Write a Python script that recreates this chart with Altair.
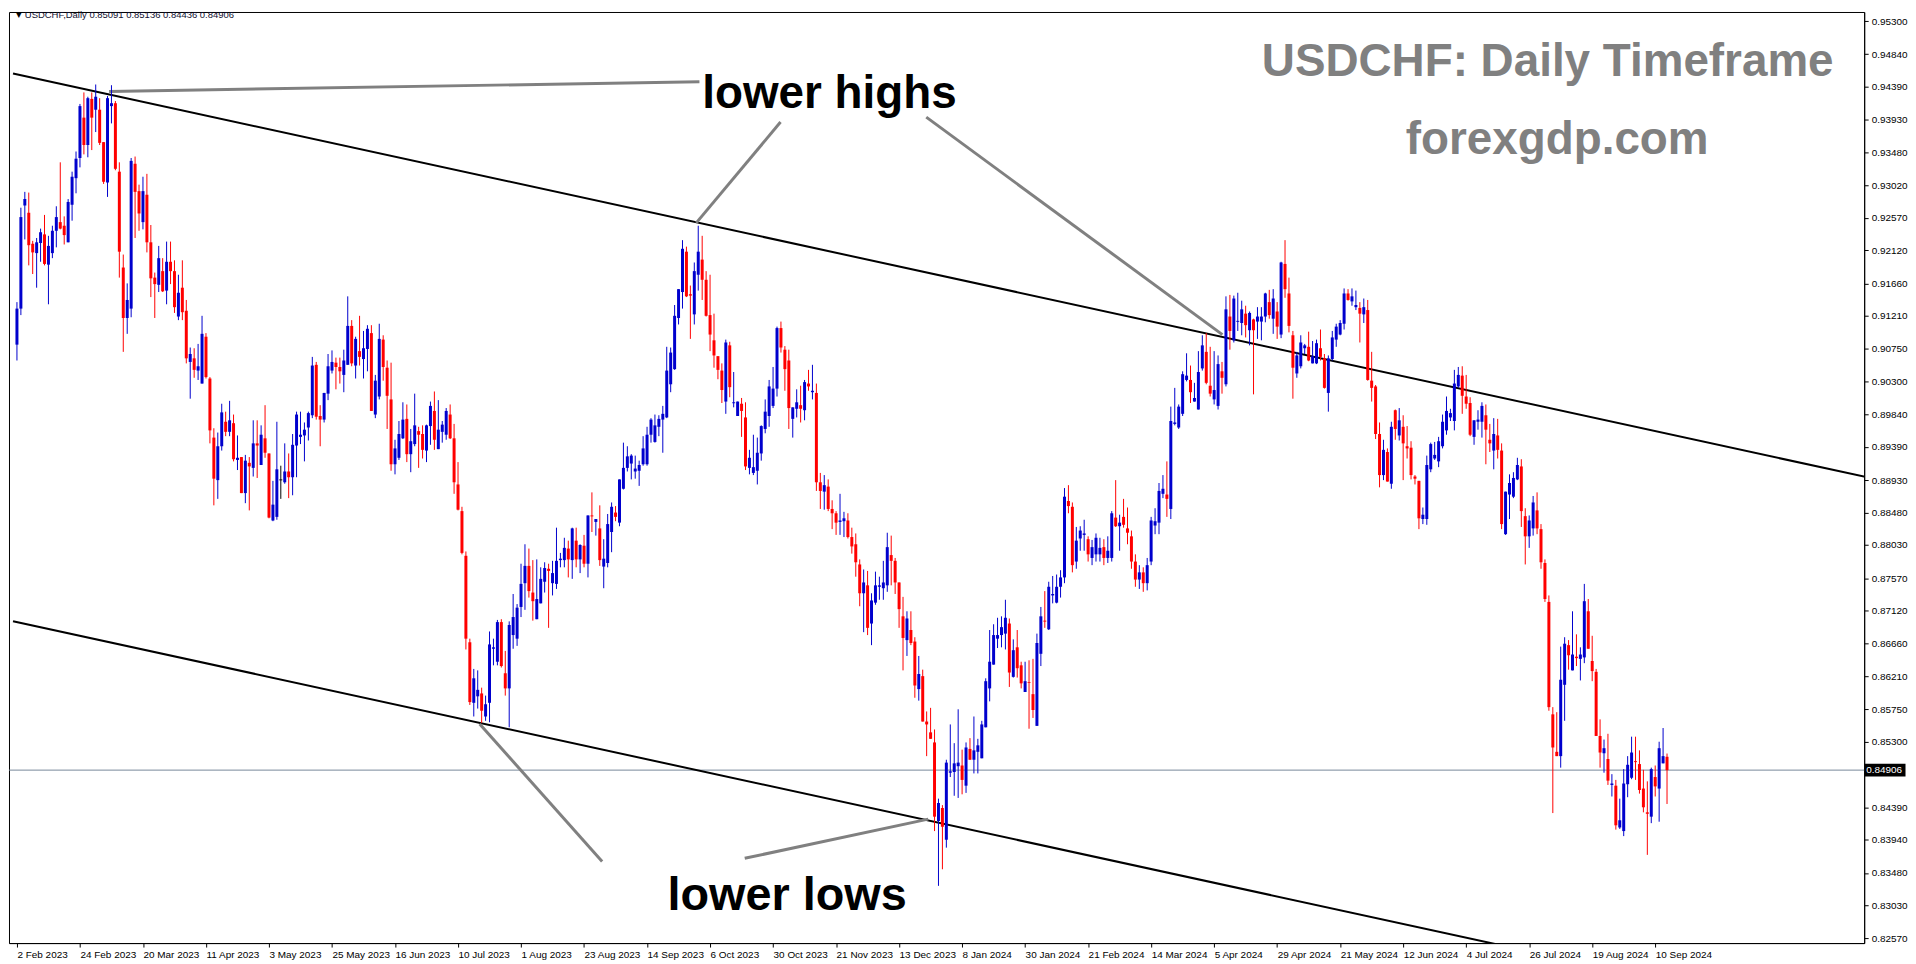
import altair as alt
import pandas as pd
import numpy as np

# ---------------- data (prices in 1e-4 units) ----------------
O = [
9081, 9131, 9274, 9264, 9221, 9208, 9222, 9234, 9192, 9208,
9239, 9251, 9246, 9223, 9275, 9312, 9340, 9396, 9358, 9422,
9407, 9407, 9362, 9306, 9412, 9416, 9321, 9188, 9118, 9131,
9332, 9294, 9251, 9289, 9223, 9174, 9164, 9183, 9156, 9196,
9183, 9120, 9160, 9128, 9057, 9062, 9045, 9027, 9092, 9034,
8952, 8893, 8940, 8974, 8960, 8972, 8921, 8925, 8875, 8917,
8910, 8944, 8914, 8951, 8930, 8837, 8842, 8894, 8890, 8905,
8897, 8941, 8953, 8955, 8966, 8983, 9053, 8982, 8977, 9013,
9045, 9056, 9050, 9039, 9053, 9107, 9052, 9072, 9061, 9075,
9097, 8984, 9009, 9088, 9049, 9005, 8915, 8924, 8951, 8978,
8929, 8943, 8961, 8957, 8934, 8968, 8989, 8936, 8960, 8956,
8984, 8951, 8887, 8850, 8788, 8668, 8584, 8593, 8597, 8565,
8584, 8659, 8641, 8696, 8625, 8604, 8678, 8673, 8717, 8750,
8774, 8737, 8700, 8722, 8752, 8770, 8750, 8749, 8782, 8782,
8798, 8782, 8809, 8783, 8802, 8777, 8844, 8835, 8826, 8773,
8778, 8821, 8848, 8834, 8881, 8910, 8916, 8905, 8906, 8915,
8915, 8956, 8946, 8967, 8977, 8980, 9026, 9047, 9118, 9154,
9210, 9151, 9123, 9178, 9199, 9171, 9122, 9087, 9065, 9045,
9002, 9080, 9000, 8982, 8999, 8980, 8910, 8903, 8906, 8930,
8964, 8982, 8996, 9020, 9104, 9074, 9059, 8978, 8992, 8997,
8990, 9027, 9015, 9014, 8890, 8877, 8884, 8853, 8847, 8835,
8836, 8837, 8814, 8804, 8776, 8736, 8747, 8694, 8723, 8745,
8743, 8747, 8789, 8781, 8751, 8704, 8671, 8685, 8669, 8603,
8621, 8558, 8543, 8529, 8420, 8438, 8394, 8487, 8488, 8496,
8497, 8469, 8520, 8505, 8516, 8507, 8550, 8604, 8637, 8673,
8678, 8680, 8694, 8620, 8661, 8636, 8599, 8613, 8596, 8552,
8652, 8698, 8686, 8733, 8723, 8745, 8758, 8864, 8856, 8780,
8812, 8817, 8811, 8785, 8790, 8790, 8800, 8785, 8785, 8841,
8829, 8842, 8826, 8815, 8780, 8755, 8765, 8750, 8780, 8830,
8834, 8874, 8873, 8853, 8971, 8966, 8985, 9032, 9032, 9002,
8991, 9048, 9071, 9024, 9005, 8996, 9044, 9026, 9120, 9087,
9113, 9111, 9124, 9101, 9116, 9113, 9113, 9120, 9140, 9117,
9127, 9095, 9193, 9152, 9094, 9041, 9051, 9076, 9078, 9055,
9055, 9076, 9062, 9014, 9061, 9088, 9095, 9110, 9152, 9141,
9133, 9132, 9123, 9129, 9031, 9023, 8957, 8900, 8932, 8888,
8990, 8955, 8967, 8940, 8938, 8898, 8892, 8839, 8839, 8908,
8923, 8919, 8940, 8962, 8980, 8975, 9023, 9038, 9009, 9000,
8953, 8974, 8974, 8983, 8949, 8934, 8955, 8934, 8818, 8873,
8870, 8894, 8912, 8843, 8815, 8826, 8851, 8825, 8778, 8724,
8568, 8516, 8510, 8609, 8664, 8629, 8648, 8645, 8647, 8711,
8642, 8627, 8538, 8514, 8506, 8470, 8469, 8411, 8406, 8471,
8480, 8503, 8499, 8465, 8432, 8426, 8481, 8465, 8500, 8509.1,
]
H = [
9140, 9271, 9293, 9292, 9225, 9229, 9242, 9261, 9232, 9246,
9273, 9334, 9259, 9283, 9321, 9349, 9415, 9431, 9425, 9431,
9442, 9423, 9362, 9426, 9441, 9419, 9334, 9206, 9166, 9340,
9342, 9303, 9314, 9318, 9247, 9181, 9218, 9201, 9224, 9224,
9198, 9178, 9198, 9143, 9077, 9076, 9082, 9121, 9097, 9036,
8965, 8959, 8999, 8988, 9003, 8984, 8955, 8925, 8928, 8925,
8976, 8976, 8969, 8997, 8930, 8892, 8974, 8913, 8944, 8930,
8957, 8988, 8988, 8973, 8988, 9064, 9057, 8997, 9014, 9068,
9073, 9063, 9063, 9074, 9148, 9115, 9092, 9121, 9100, 9108,
9108, 9039, 9110, 9094, 9059, 9056, 8949, 8975, 9001, 8998,
8964, 9013, 8967, 8969, 8970, 9002, 9016, 9004, 8975, 8993,
8998, 8971, 8918, 8856, 8794, 8673, 8631, 8629, 8605, 8594,
8683, 8673, 8699, 8700, 8656, 8697, 8735, 8721, 8777, 8804,
8798, 8782, 8783, 8772, 8779, 8777, 8781, 8827, 8792, 8813,
8809, 8827, 8827, 8804, 8817, 8844, 8876, 8839, 8858, 8811,
8846, 8862, 8857, 8894, 8945, 8940, 8929, 8927, 8920, 8954,
8967, 8979, 8984, 8983, 8996, 9078, 9077, 9136, 9158, 9226,
9217, 9163, 9195, 9246, 9232, 9183, 9178, 9124, 9065, 9055,
9088, 9085, 9043, 9002, 9007, 9001, 8935, 8956, 8952, 8969,
9005, 9032, 9050, 9106, 9113, 9079, 9074, 8994, 9019, 9024,
9032, 9046, 9053, 9027, 8903, 8900, 8894, 8865, 8850, 8874,
8849, 8847, 8827, 8819, 8783, 8769, 8767, 8736, 8766, 8759,
8781, 8820, 8816, 8785, 8751, 8731, 8711, 8711, 8675, 8649,
8630, 8572, 8577, 8547, 8451, 8442, 8505, 8554, 8528, 8575,
8519, 8529, 8535, 8565, 8534, 8559, 8618, 8685, 8693, 8702,
8704, 8727, 8701, 8672, 8685, 8641, 8641, 8643, 8645, 8680,
8717, 8739, 8752, 8760, 8762, 8768, 8882, 8886, 8862, 8828,
8829, 8838, 8815, 8810, 8819, 8813, 8811, 8815, 8850, 8893,
8845, 8867, 8855, 8823, 8790, 8775, 8772, 8785, 8842, 8854,
8889, 8900, 8919, 8995, 9021, 8998, 9044, 9069, 9052, 9028,
9072, 9094, 9097, 9078, 9072, 9066, 9057, 9148, 9150, 9149,
9153, 9142, 9135, 9127, 9117, 9133, 9133, 9153, 9157, 9158,
9140, 9196, 9226, 9174, 9100, 9071, 9094, 9082, 9099, 9086,
9088, 9102, 9068, 9066, 9100, 9110, 9115, 9159, 9158, 9159,
9156, 9140, 9145, 9143, 9071, 9025, 8973, 8949, 8937, 8974,
8991, 8993, 8983, 8968, 8947, 8900, 8892, 8855, 8927, 8945,
8946, 8953, 8984, 9009, 8992, 9046, 9050, 9051, 9039, 9008,
8976, 8990, 9001, 8998, 8971, 8979, 8978, 8944, 8877, 8901,
8904, 8924, 8922, 8854, 8844, 8871, 8876, 8832, 8783, 8733,
8578, 8571, 8662, 8675, 8671, 8711, 8679, 8661, 8749, 8728,
8677, 8631, 8561, 8533, 8541, 8485, 8477, 8451, 8492, 8510,
8537, 8537, 8518, 8491, 8475, 8494, 8497, 8530, 8549, 8513.6,
]
L = [
9059, 9122, 9227, 9191, 9179, 9160, 9196, 9191, 9137, 9201,
9216, 9241, 9220, 9223, 9253, 9291, 9327, 9345, 9341, 9351,
9376, 9358, 9304, 9286, 9388, 9323, 9174, 9071, 9096, 9119,
9229, 9239, 9241, 9209, 9147, 9118, 9154, 9154, 9137, 9165,
9125, 9115, 9115, 9055, 9006, 9035, 9032, 9027, 9034, 8944,
8858, 8867, 8934, 8954, 8954, 8919, 8907, 8875, 8861, 8851,
8898, 8896, 8914, 8924, 8840, 8836, 8838, 8867, 8888, 8868,
8872, 8897, 8943, 8919, 8948, 8979, 8977, 8940, 8973, 9004,
9041, 9019, 9027, 9015, 9053, 9051, 9034, 9052, 9034, 9044,
8989, 8979, 9005, 9031, 8964, 8906, 8901, 8921, 8950, 8918,
8904, 8940, 8910, 8923, 8918, 8942, 8935, 8936, 8945, 8949,
8950, 8874, 8851, 8790, 8658, 8581, 8565, 8576, 8556, 8559,
8557, 8636, 8636, 8633, 8594, 8550, 8659, 8663, 8703, 8713,
8730, 8698, 8700, 8722, 8737, 8688, 8733, 8742, 8772, 8772,
8758, 8756, 8772, 8764, 8772, 8758, 8821, 8816, 8774, 8743,
8772, 8793, 8836, 8829, 8880, 8905, 8894, 8895, 8885, 8913,
8913, 8945, 8945, 8954, 8931, 8979, 9015, 9046, 9109, 9131,
9147, 9089, 9109, 9156, 9143, 9120, 9072, 9049, 9033, 9000,
8985, 9008, 8994, 8982, 8953, 8907, 8901, 8900, 8887, 8920,
8958, 8967, 8993, 9009, 9070, 9017, 8964, 8952, 8980, 8973,
8976, 9017, 9005, 8878, 8853, 8852, 8850, 8825, 8817, 8817,
8814, 8812, 8791, 8759, 8718, 8682, 8678, 8664, 8720, 8727,
8727, 8738, 8747, 8735, 8688, 8629, 8649, 8664, 8591, 8587,
8558, 8510, 8534, 8406, 8330, 8353, 8383, 8481, 8455, 8452,
8457, 8459, 8505, 8486, 8486, 8507, 8550, 8586, 8637, 8660,
8661, 8658, 8606, 8619, 8619, 8604, 8599, 8548, 8563, 8552,
8635, 8688, 8685, 8722, 8722, 8730, 8750, 8847, 8765, 8770,
8795, 8795, 8780, 8775, 8780, 8780, 8775, 8778, 8780, 8828,
8795, 8827, 8804, 8770, 8745, 8742, 8738, 8740, 8775, 8818,
8818, 8868, 8842, 8839, 8969, 8964, 8982, 9030, 9000, 9002,
8991, 9045, 9026, 9009, 8998, 8991, 9013, 9023, 9074, 9084,
9100, 9094, 9091, 9080, 9012, 9089, 9087, 9112, 9117, 9096,
9089, 9090, 9146, 9098, 9006, 9035, 9048, 9068, 9058, 9055,
9054, 9059, 9020, 8988, 9059, 9078, 9094, 9102, 9142, 9135,
9129, 9084, 9111, 9031, 9002, 8950, 8883, 8893, 8891, 8881,
8949, 8948, 8893, 8923, 8894, 8887, 8825, 8832, 8831, 8904,
8921, 8911, 8937, 8956, 8975, 8962, 9021, 8985, 8992, 8954,
8942, 8963, 8952, 8915, 8932, 8908, 8923, 8825, 8817, 8839,
8868, 8893, 8828, 8776, 8799, 8816, 8818, 8770, 8724, 8573,
8431, 8510, 8494, 8559, 8630, 8629, 8635, 8615, 8639, 8659,
8614, 8538, 8494, 8487, 8470, 8454, 8408, 8409, 8399, 8453,
8478, 8477, 8458, 8432, 8373, 8417, 8454, 8419, 8500, 8443.6,
]
C = [
9131, 9258, 9283, 9219, 9209, 9223, 9237, 9193, 9218, 9239,
9258, 9242, 9233, 9279, 9314, 9339, 9412, 9358, 9423, 9396,
9425, 9361, 9307, 9423, 9416, 9325, 9210, 9118, 9143, 9336,
9293, 9263, 9294, 9223, 9173, 9165, 9201, 9155, 9196, 9183,
9133, 9153, 9126, 9062, 9068, 9046, 9051, 9096, 9036, 8962,
8895, 8940, 8987, 8960, 8976, 8922, 8924, 8875, 8920, 8912,
8944, 8941, 8956, 8931, 8841, 8859, 8908, 8894, 8905, 8897,
8942, 8984, 8956, 8963, 8986, 9052, 8981, 8977, 9014, 9051,
9057, 9050, 9044, 9059, 9107, 9055, 9089, 9064, 9076, 9103,
8989, 9031, 9089, 9050, 9010, 8915, 8937, 8957, 8977, 8929,
8947, 8969, 8956, 8935, 8969, 8996, 8949, 8963, 8970, 8989,
8951, 8890, 8852, 8792, 8673, 8585, 8618, 8602, 8573, 8582,
8665, 8661, 8696, 8635, 8604, 8692, 8703, 8716, 8749, 8774,
8739, 8725, 8728, 8756, 8771, 8767, 8764, 8781, 8784, 8799,
8783, 8826, 8783, 8803, 8777, 8844, 8843, 8839, 8782, 8784,
8832, 8856, 8842, 8894, 8910, 8926, 8927, 8909, 8914, 8937,
8956, 8977, 8969, 8978, 8985, 9045, 9070, 9121, 9158, 9214,
9148, 9149, 9183, 9210, 9171, 9121, 9095, 9066, 9046, 9018,
9084, 9022, 9001, 9002, 8989, 8912, 8924, 8911, 8931, 8968,
8988, 9023, 9020, 9104, 9077, 9047, 8993, 8994, 9001, 8992,
9029, 9023, 9017, 8890, 8878, 8886, 8853, 8847, 8834, 8837,
8840, 8814, 8801, 8779, 8736, 8751, 8688, 8726, 8747, 8747,
8751, 8800, 8781, 8751, 8714, 8674, 8701, 8667, 8608, 8624,
8558, 8554, 8534, 8426, 8445, 8412, 8501, 8489, 8500, 8501,
8477, 8522, 8505, 8518, 8525, 8554, 8614, 8641, 8678, 8678,
8689, 8702, 8626, 8657, 8632, 8611, 8614, 8612, 8574, 8667,
8704, 8697, 8745, 8735, 8745, 8758, 8870, 8857, 8775, 8809,
8823, 8819, 8790, 8800, 8813, 8799, 8785, 8795, 8847, 8829,
8834, 8831, 8820, 8780, 8755, 8765, 8750, 8775, 8837, 8836,
8878, 8881, 8867, 8975, 8973, 8995, 9040, 9038, 9015, 9007,
9043, 9080, 9028, 9013, 9018, 9054, 9035, 9130, 9100, 9145,
9114, 9130, 9108, 9125, 9101, 9120, 9120, 9152, 9122, 9145,
9106, 9195, 9158, 9107, 9049, 9066, 9084, 9080, 9059, 9065,
9083, 9064, 9021, 9062, 9091, 9106, 9111, 9152, 9143, 9148,
9136, 9124, 9133, 9032, 9021, 8957, 8900, 8935, 8891, 8967,
8964, 8976, 8944, 8937, 8900, 8895, 8840, 8845, 8914, 8943,
8928, 8947, 8974, 8989, 8986, 9027, 9039, 9010, 8999, 8956,
8976, 8977, 8996, 8963, 8944, 8957, 8935, 8832, 8877, 8889,
8896, 8914, 8850, 8815, 8837, 8862, 8826, 8779, 8728, 8578,
8522, 8510, 8616, 8666, 8650, 8651, 8646, 8651, 8725, 8659,
8628, 8538, 8515, 8521, 8476, 8472, 8414, 8421, 8472, 8498,
8515, 8502, 8463, 8439, 8430, 8492, 8468, 8521, 8510, 8490.6,
]

date_labels = ["2 Feb 2023", "24 Feb 2023", "20 Mar 2023", "11 Apr 2023", "3 May 2023",
               "25 May 2023", "16 Jun 2023", "10 Jul 2023", "1 Aug 2023", "23 Aug 2023",
               "14 Sep 2023", "6 Oct 2023", "30 Oct 2023", "21 Nov 2023", "13 Dec 2023",
               "8 Jan 2024", "30 Jan 2024", "21 Feb 2024", "14 Mar 2024", "5 Apr 2024",
               "29 Apr 2024", "21 May 2024", "12 Jun 2024", "4 Jul 2024", "26 Jul 2024",
               "19 Aug 2024", "10 Sep 2024"]
label_bars = [16 * i for i in range(len(date_labels))]

price_ticks = [0.95300, 0.94840, 0.94390, 0.93930, 0.93480, 0.93020, 0.92570, 0.92120,
               0.91660, 0.91210, 0.90750, 0.90300, 0.89840, 0.89390, 0.88930, 0.88480,
               0.88030, 0.87570, 0.87120, 0.86660, 0.86210, 0.85750, 0.85300, 0.84850,
               0.84390, 0.83940, 0.83480, 0.83030, 0.82570]
hidden_tick = 0.84850   # covered by the last-price box

last_price = 0.84906
header_values = "USDCHF,Daily  0.85091 0.85136 0.84436 0.84906"

# channel lines (bar index, price)
channel_bar = [-1, 470]
upper_price = [0.94572, 0.88967]
lower_price = [0.86972, 0.81367]

# annotation pointer segments (bar index, price)
ptr_x1 = [23.4, 172.5, 230.9, 117.5, 184.8]
ptr_y1 = [0.94323, 0.92500, 0.93967, 0.85546, 0.83682]
ptr_x2 = [173.3, 193.9, 306.1, 148.6, 231.4]
ptr_y2 = [0.94458, 0.93899, 0.90949, 0.83639, 0.84226]

assert len(O) == len(H) == len(L) == len(C) == 420

# ---------------- build ----------------
n = len(C)
df = pd.DataFrame({
    "bar": np.arange(n),
    "o": np.array(O) / 10000.0,
    "h": np.array(H) / 10000.0,
    "l": np.array(L) / 10000.0,
    "c": np.array(C) / 10000.0,
})
df["top"] = df[["o", "c"]].max(axis=1)
df["bot"] = df[["o", "c"]].min(axis=1)
df["bot"] = np.where(df["top"] - df["bot"] < 0.00013, df["top"] - 0.00013, df["bot"])
df["col"] = np.where(df["c"] > df["o"], "#0000cd",
                     np.where(df["c"] < df["o"], "#ff0000", "#000000"))

W, Hh = 1863, 935
xs = alt.Scale(domain=[-0.7545, 467.8], nice=False, zero=False)
ys = alt.Scale(domain=[0.82506, 0.95426], nice=False, zero=False)

label_expr = "[" + ",".join("'%s'" % s for s in date_labels) + "][round(datum.value/16)]"
ylabel_expr = "abs(datum.value - %f) < 0.000001 ? '' : format(datum.value, '.5f')" % hidden_tick

x_axis = alt.Axis(values=label_bars, labelExpr=label_expr, orient="bottom", title=None,
                  labelAlign="left", labelPadding=2, tickSize=4, labelFlush=False,
                  labelOverlap=False, labelFontSize=10, labelBaseline="top", grid=False)
y_axis = alt.Axis(values=price_ticks, labelExpr=ylabel_expr, orient="right", title=None,
                  tickSize=4, labelPadding=3, labelFontSize=10, labelOverlap=False,
                  labelFlush=False, grid=False)


def X(field):
    return alt.X(field, scale=xs, axis=x_axis)


def Y(field):
    return alt.Y(field, scale=ys, axis=y_axis)


base = alt.Chart(df)
wicks = base.mark_rule(strokeWidth=1).encode(
    x=X("bar:Q"), y=Y("l:Q"), y2="h:Q",
    color=alt.Color("col:N", scale=None),
)
bodies = base.mark_bar(size=3).encode(
    x=X("bar:Q"), y=Y("top:Q"), y2="bot:Q",
    color=alt.Color("col:N", scale=None),
)

ch_df = pd.DataFrame({
    "x": [channel_bar[0], channel_bar[0]],
    "x2": [channel_bar[1], channel_bar[1]],
    "y": [upper_price[0], lower_price[0]],
    "y2": [upper_price[1], lower_price[1]],
})
channel = alt.Chart(ch_df).mark_rule(color="black", strokeWidth=2, clip=True).encode(
    x=X("x:Q"), x2="x2:Q", y=Y("y:Q"), y2="y2:Q")

ptr_df = pd.DataFrame({"x": ptr_x1, "y": ptr_y1, "x2": ptr_x2, "y2": ptr_y2})
pointers = alt.Chart(ptr_df).mark_rule(color="#808080", strokeWidth=3).encode(
    x=X("x:Q"), x2="x2:Q", y=Y("y:Q"), y2="y2:Q")

lp_df = pd.DataFrame({"p": [last_price], "t": ["%.5f" % last_price]})
price_line = alt.Chart(lp_df).mark_rule(color="#778899", strokeWidth=1).encode(
    y=Y("p:Q"))
price_box = alt.Chart(lp_df).mark_tick(orient="horizontal", color="black", thickness=13,
                                       size=41, opacity=1).encode(
    x=alt.value(W + 21), y=Y("p:Q"))
price_txt = alt.Chart(lp_df).mark_text(align="left", baseline="middle", color="white",
                                       font="Liberation Sans", fontSize=10).encode(
    x=alt.value(W + 2), y=Y("p:Q"), text="t:N")


def label(txt, bx, py, size, color, align="left", bold=True, font="Liberation Sans",
          baseline="alphabetic"):
    d = pd.DataFrame({"x": [bx], "y": [py], "t": [txt]})
    return alt.Chart(d).mark_text(align=align, baseline=baseline, fontSize=size,
                                  fontWeight="bold" if bold else "normal",
                                  color=color, font=font).encode(
        x=X("x:Q"), y=Y("y:Q"), text="t:N")


texts = [
    label("lower highs", 174.0, 0.94099, 46, "black"),
    label("lower lows", 165.2, 0.82962, 47, "black"),
    label("USDCHF: Daily Timeframe", 461.3, 0.94541, 46, "#808080", align="right"),
    label("forexgdp.com", 391.1, 0.93450, 46, "#808080", align="center"),
    label("\u25bc", -0.3, 0.95384, 8, "#000000", bold=False, font="DejaVu Sans",
          baseline="middle"),
    label(header_values, 2.0, 0.95384, 9.5, "#101030", bold=False, baseline="middle"),
]

chart = alt.layer(price_line, channel, pointers, wicks, bodies, price_box, price_txt,
                  *texts).properties(
    width=W, height=Hh, padding=0, background="white"
).configure_view(stroke="black", strokeWidth=1).configure_axis(
    labelFont="Liberation Sans", labelColor="black", domainColor="black",
    tickColor="black", grid=False, domainWidth=1, tickWidth=1, labelOverlap=False)

chart.save("out.html", embed_options={"renderer": "svg", "actions": False})
